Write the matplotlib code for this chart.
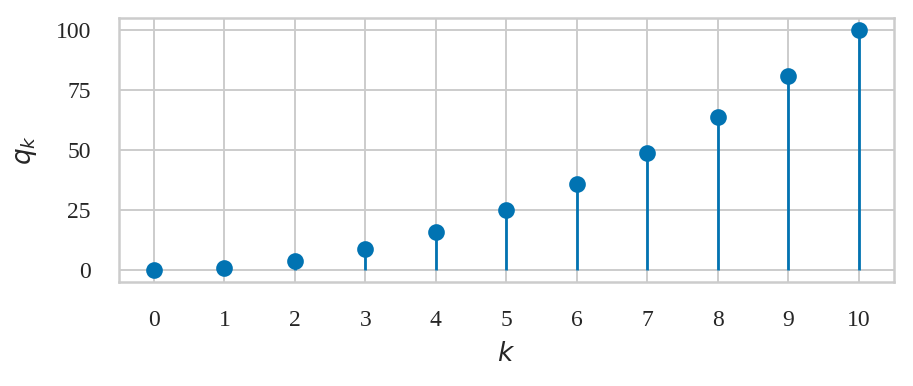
import numpy as np
import matplotlib
matplotlib.use("Agg")
import matplotlib.pyplot as plt
import seaborn as sns

# data
k = [0, 1, 2, 3, 4, 5, 6, 7, 8, 9, 10]
q = [0, 1, 4, 9, 16, 25, 36, 49, 64, 81, 100]
y_ticks = [0, 25, 50, 75, 100]

sns.set_theme(style="whitegrid")
plt.rcParams['font.family'] = ['Liberation Serif', 'DejaVu Serif']
plt.rcParams['mathtext.fontset'] = 'dejavusans'

fig = plt.figure(figsize=(4.565, 1.93), dpi=200)
ax = fig.add_axes([0.130, 0.269, 0.849, 0.684])

blue = '#0173b2'
markerline, stemlines, baseline = ax.stem(k, q, basefmt=' ')
plt.setp(markerline, color=blue, markersize=5.0)
plt.setp(stemlines, color=blue, linewidth=1.0)

ax.set_xlim(-0.5, 10.5)
ax.set_ylim(-5, 105)
ax.set_xticks(k)
ax.set_yticks(y_ticks)
ax.tick_params(axis='both', labelsize=8.5, pad=4, colors='#262626')
ax.set_xlabel(r'$k$', fontsize=9.5, labelpad=4, color='#262626')
ax.set_ylabel(r'$q_k$', fontsize=9.5, labelpad=6, color='#262626')
for sp in ax.spines.values():
    sp.set_color('#cccccc')
    sp.set_linewidth(0.9)
ax.grid(color='#cccccc', linewidth=0.7)
ax.set_axisbelow(True)

fig.savefig('out.png', dpi=200)
